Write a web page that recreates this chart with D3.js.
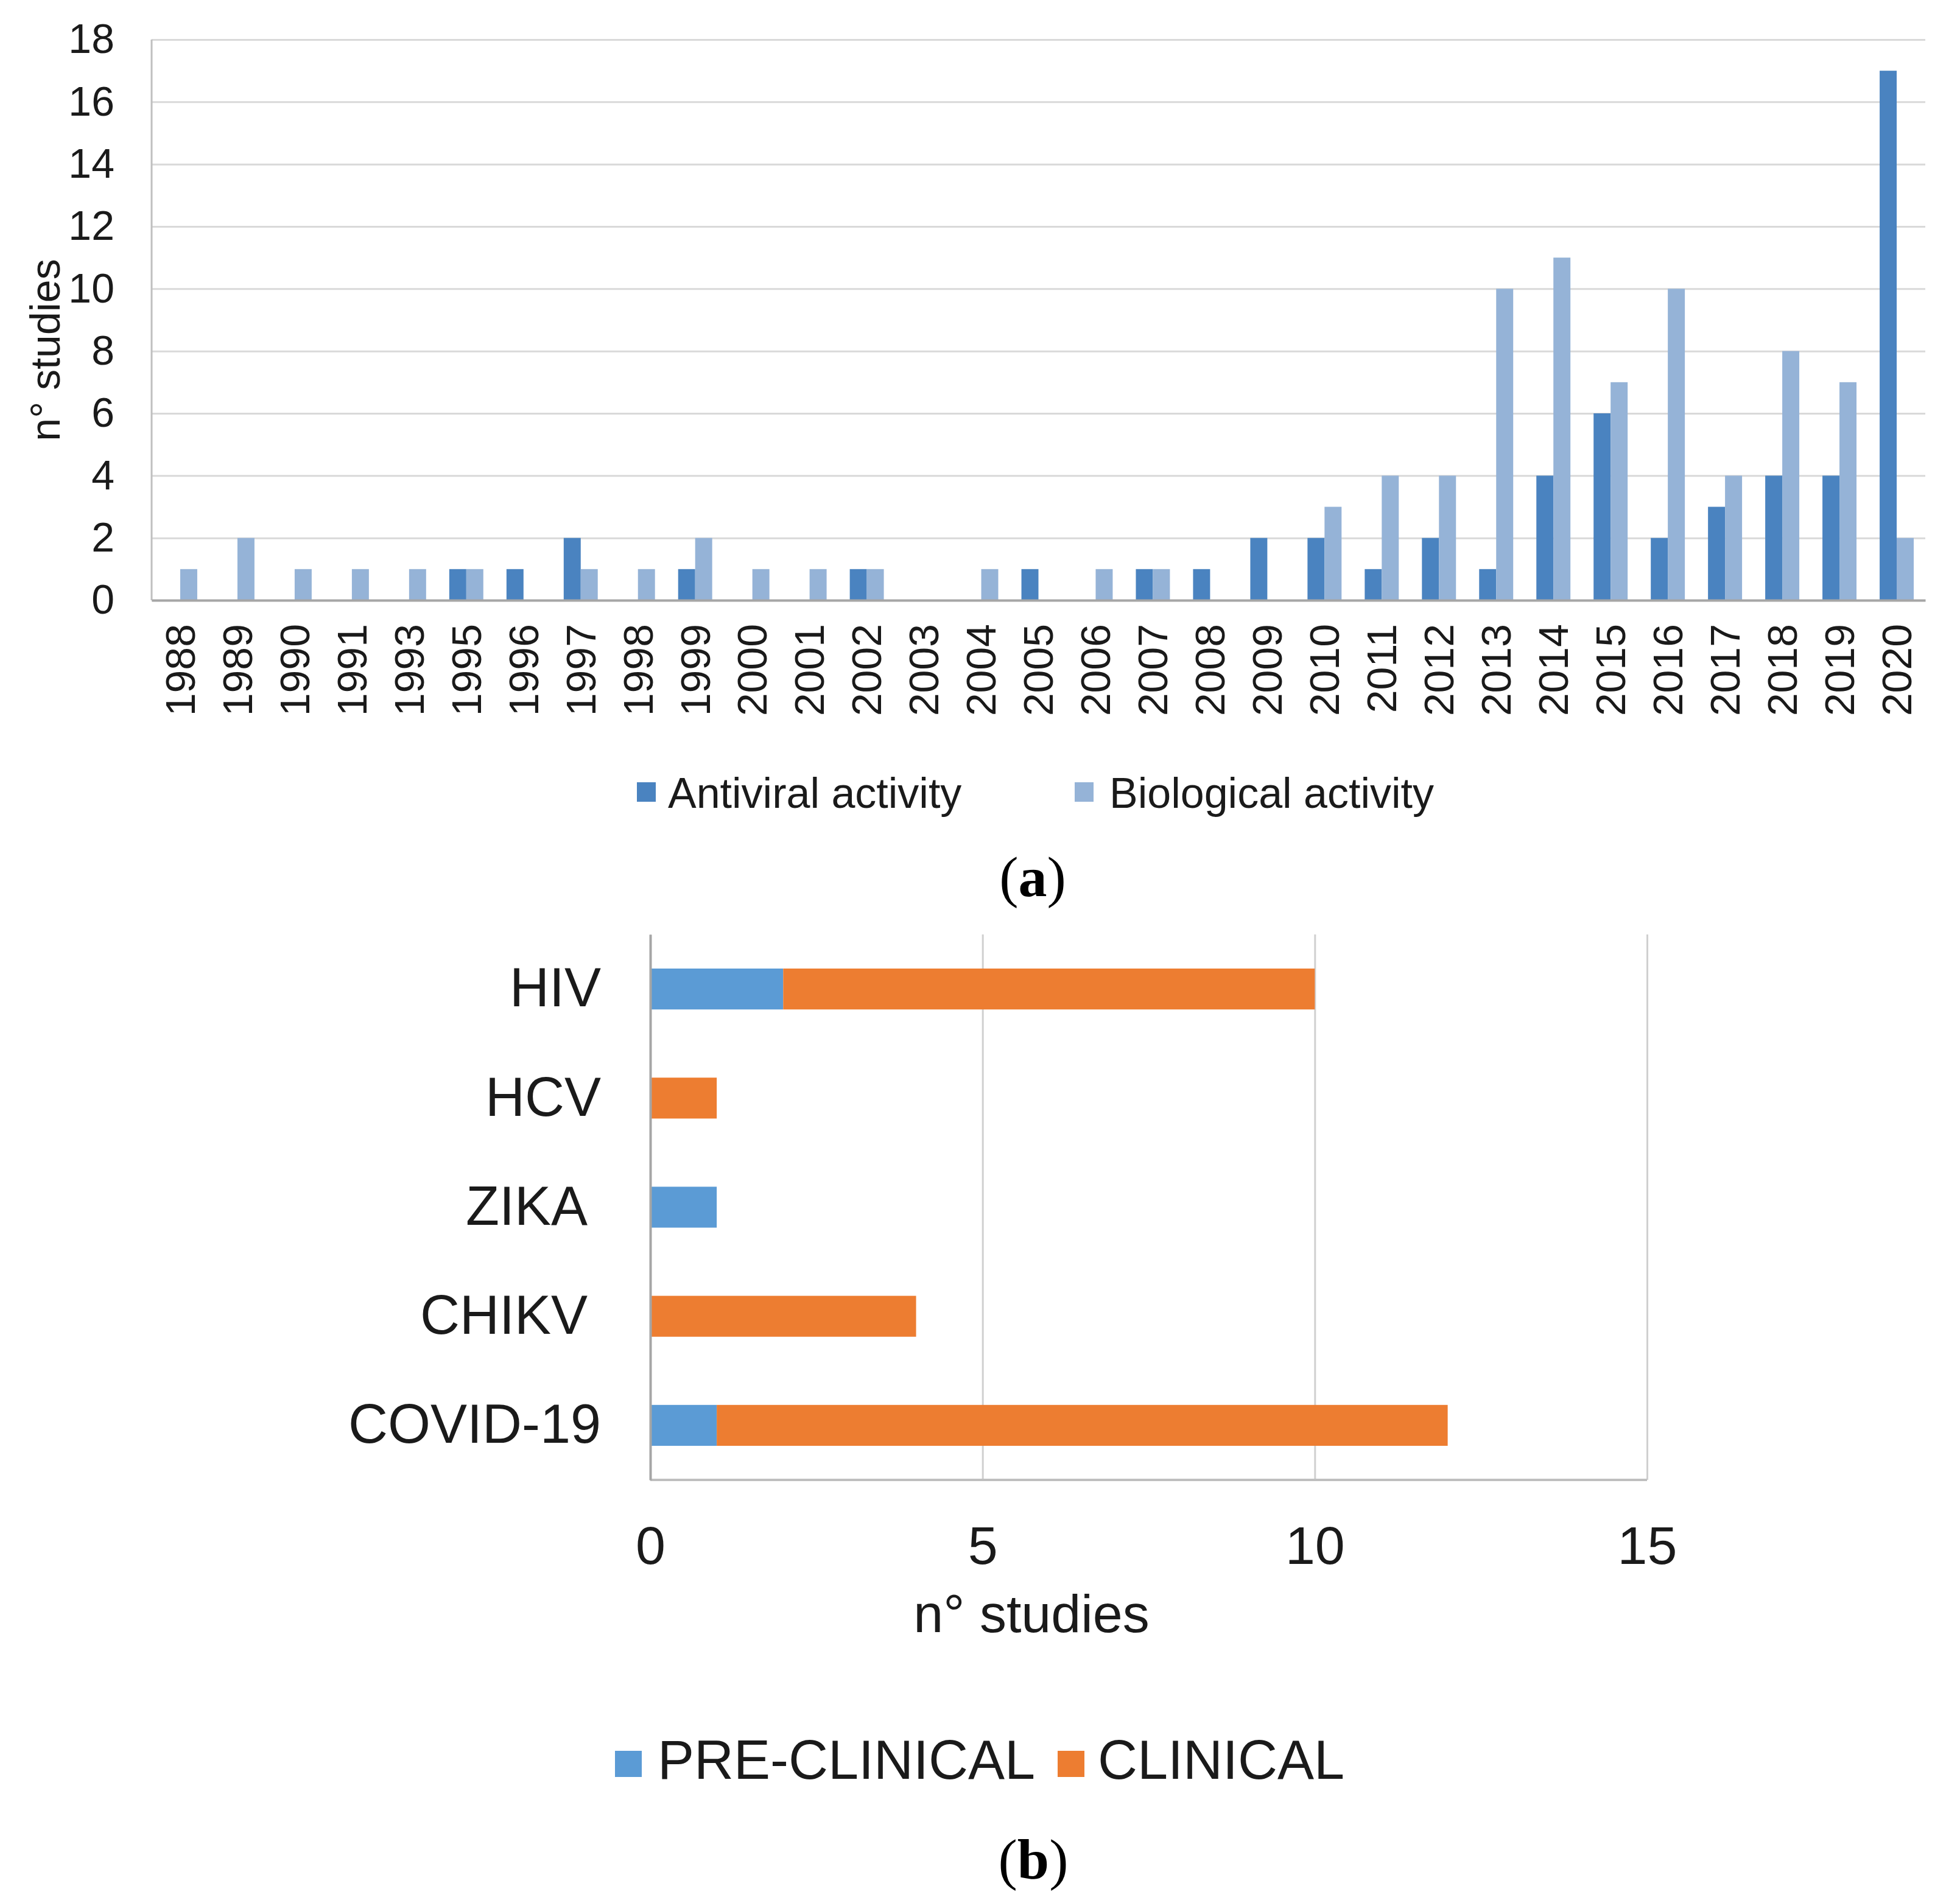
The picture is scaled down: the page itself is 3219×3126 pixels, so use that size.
<!DOCTYPE html>
<html>
<head>
<meta charset="utf-8">
<script src="https://cdn.jsdelivr.net/npm/d3@7"></script>
<style>
  body { margin: 0; background: #fff; }
  text { font-family: "Liberation Sans", Arial, sans-serif; fill: #1a1a1a; }
</style>
</head>
<body>
<div id="container"></div>
<script>
/* CONSTANTS AND GLOBALS */
const width = 3219,
  height = 3126;

/* DATA */
// panel (a): studies per year
const years = ["1988", "1989", "1990", "1991", "1993", "1995", "1996", "1997", "1998", "1999",
  "2000", "2001", "2002", "2003", "2004", "2005", "2006", "2007", "2008", "2009",
  "2010", "2011", "2012", "2013", "2014", "2015", "2016", "2017", "2018", "2019", "2020"];
const antiviral = [0, 0, 0, 0, 0, 1, 1, 2, 0, 1,
  0, 0, 1, 0, 0, 1, 0, 1, 1, 2,
  2, 1, 2, 1, 4, 6, 2, 3, 4, 4, 17];
const biological = [1, 2, 1, 1, 1, 1, 0, 1, 1, 2,
  1, 1, 1, 0, 1, 0, 1, 1, 0, 0,
  3, 4, 4, 10, 11, 7, 10, 4, 8, 7, 2];
const seriesA = ["Antiviral activity", "Biological activity"];
const yTicksA = [0, 2, 4, 6, 8, 10, 12, 14, 16, 18];

// panel (b): studies per virus
const viruses = ["HIV", "HCV", "ZIKA", "CHIKV", "COVID-19"];
const preClinical = [2, 0, 1, 0, 1];
const clinical = [8, 1, 0, 4, 11];
const seriesB = ["PRE-CLINICAL", "CLINICAL"];
const xTicksB = [0, 5, 10, 15];

const colorA = d3.scaleOrdinal().domain(seriesA).range(["#4a83c0", "#95b3d7"]);
const colorB = d3.scaleOrdinal().domain(seriesB).range(["#5b9bd5", "#ed7d31"]);

const svg = d3.select("#container")
  .append("svg")
  .attr("width", width)
  .attr("height", height);

/* PANEL A */
const a = { left: 249, right: 3162, top: 65, bottom: 986 };

const xA = d3.scaleBand()
  .domain(years)
  .range([a.left, a.right]);

const xSub = d3.scaleBand()
  .domain(seriesA)
  .range([0, xA.bandwidth()])
  .paddingOuter(0.68);

const yA = d3.scaleLinear()
  .domain([0, 18])
  .range([a.bottom, a.top]);

// gridlines + y labels
const yAxisA = svg.append("g")
  .attr("transform", `translate(${a.left}, 0)`)
  .call(d3.axisLeft(yA)
    .tickValues(yTicksA)
    .tickSize(-(a.right - a.left))
    .tickPadding(61));
yAxisA.select(".domain").remove();
yAxisA.selectAll(".tick line")
  .attr("stroke", "#d9d9d9")
  .attr("stroke-width", 3);
yAxisA.selectAll(".tick text")
  .style("font-size", "68px");

svg.append("line")
  .attr("x1", a.left).attr("x2", a.left)
  .attr("y1", a.top).attr("y2", a.bottom)
  .attr("stroke", "#bfbfbf")
  .attr("stroke-width", 3);

const rowsA = years.map((yr, i) => ({ year: yr, values: [antiviral[i], biological[i]] }));

svg.append("g")
  .selectAll("g")
  .data(rowsA)
  .join("g")
  .attr("transform", d => `translate(${xA(d.year)}, 0)`)
  .selectAll("rect")
  .data(d => d.values.map((v, j) => ({ key: seriesA[j], value: v })))
  .join("rect")
  .attr("x", d => xSub(d.key))
  .attr("width", xSub.bandwidth())
  .attr("y", d => yA(d.value))
  .attr("height", d => yA(0) - yA(d.value))
  .attr("fill", d => colorA(d.key));

// x axis (years, rotated)
const xAxisA = svg.append("g")
  .attr("transform", `translate(0, ${a.bottom})`)
  .call(d3.axisBottom(xA).tickSize(0).tickPadding(0));
xAxisA.select(".domain")
  .attr("stroke", "#a6a6a6")
  .attr("stroke-width", 4);
xAxisA.selectAll(".tick text")
  .style("font-size", "68px")
  .attr("text-anchor", "end")
  .attr("y", 0)
  .attr("dy", "0.35em")
  .attr("transform", "translate(0, 39) rotate(-90)");

svg.append("text")
  .attr("transform", "translate(98, 575) rotate(-90)")
  .attr("text-anchor", "middle")
  .style("font-size", "68px")
  .text("n° studies");

// legend a
const legendA = svg.append("g")
  .selectAll("g")
  .data(seriesA)
  .join("g")
  .attr("transform", (d, i) => `translate(${[1046, 1765][i]}, 1285)`);
legendA.append("rect")
  .attr("width", 31).attr("height", 32)
  .attr("fill", d => colorA(d));
legendA.append("text")
  .attr("x", (d, i) => [51, 57][i])
  .attr("y", 42)
  .style("font-size", "70px")
  .text(d => d);

svg.append("text")
  .attr("x", 1696).attr("y", 1472)
  .attr("text-anchor", "middle")
  .style("font-family", "'Liberation Serif', 'DejaVu Serif', serif")
  .style("font-size", "94px")
  .style("fill", "#000")
  .html('(<tspan font-weight="bold">a</tspan>)');

/* PANEL B */
const b = { left: 1068, right: 2705, top: 1535, bottom: 2431 };

const xB = d3.scaleLinear()
  .domain([0, 15])
  .range([b.left, b.right]);

const yB = d3.scaleBand()
  .domain(viruses)
  .range([b.top, b.bottom])
  .paddingInner(0.625)
  .paddingOuter(0.3125);

const xAxisB = svg.append("g")
  .attr("transform", `translate(0, ${b.bottom})`)
  .call(d3.axisBottom(xB)
    .tickValues(xTicksB)
    .tickSize(-(b.bottom - b.top))
    .tickPadding(76));
xAxisB.select(".domain").remove();
xAxisB.selectAll(".tick line")
  .attr("stroke", "#d0d0d0")
  .attr("stroke-width", 3);
xAxisB.selectAll(".tick text")
  .style("font-size", "88px");

svg.append("line")
  .attr("x1", b.left).attr("x2", b.right)
  .attr("y1", b.bottom).attr("y2", b.bottom)
  .attr("stroke", "#bfbfbf")
  .attr("stroke-width", 4);

const rowsB = viruses.map((v, i) => ({ virus: v, "PRE-CLINICAL": preClinical[i], "CLINICAL": clinical[i] }));
const stackB = d3.stack().keys(seriesB)(rowsB);

svg.append("g")
  .selectAll("g")
  .data(stackB)
  .join("g")
  .attr("fill", d => colorB(d.key))
  .selectAll("rect")
  .data(d => d)
  .join("rect")
  .attr("x", d => xB(d[0]))
  .attr("width", d => xB(d[1]) - xB(d[0]))
  .attr("y", d => yB(d.data.virus))
  .attr("height", yB.bandwidth());

const yAxisB = svg.append("g")
  .attr("transform", `translate(${b.left}, 0)`)
  .call(d3.axisLeft(yB).tickSize(0).tickPadding(81));
yAxisB.select(".domain")
  .attr("stroke", "#a6a6a6")
  .attr("stroke-width", 4);
yAxisB.selectAll(".tick text")
  .style("font-size", "90px")
  // the original labels for ZIKA and CHIKV sit a little further left
  .attr("dx", d => (d === "ZIKA" || d === "CHIKV") ? -22 : 0);

svg.append("text")
  .attr("x", 1694).attr("y", 2681)
  .attr("text-anchor", "middle")
  .style("font-size", "88px")
  .text("n° studies");

// legend b
const legendB = svg.append("g")
  .selectAll("g")
  .data(seriesB)
  .join("g")
  .attr("transform", (d, i) => `translate(${[1010, 1737][i]}, 2876)`);
legendB.append("rect")
  .attr("width", 44).attr("height", 43)
  .attr("fill", d => colorB(d));
legendB.append("text")
  .attr("x", (d, i) => [70, 66][i])
  .attr("y", 46)
  .style("font-size", "90px")
  .text(d => d);

svg.append("text")
  .attr("x", 1697).attr("y", 3086)
  .attr("text-anchor", "middle")
  .style("font-family", "'Liberation Serif', 'DejaVu Serif', serif")
  .style("font-size", "94px")
  .style("fill", "#000")
  .html('(<tspan font-weight="bold">b</tspan>)');
</script>
</body>
</html>
